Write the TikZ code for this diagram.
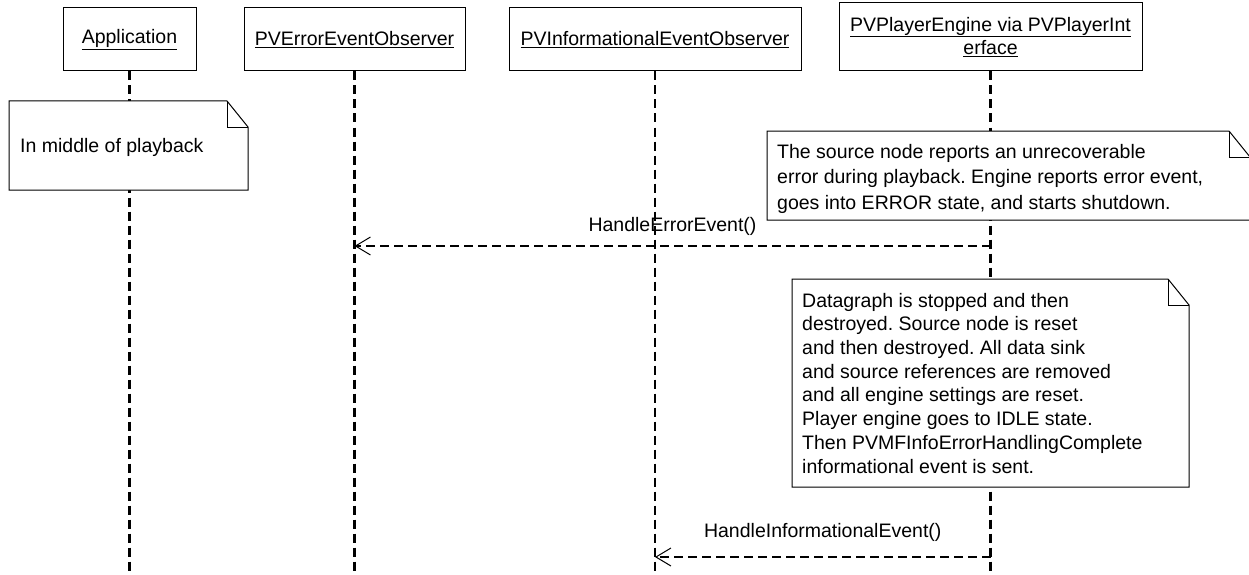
\documentclass[tikz,border=0pt]{standalone}
\usepackage{fontspec}
\setmainfont{Liberation Sans}
\usetikzlibrary{calc}
\usetikzlibrary{arrows.meta}
\frenchspacing

% note with a folded corner: x1, y1, x2, y2
\newcommand{\drawnote}[4]{%
  \draw[notebox] (#1, #2) -- (#3-21, #2) -- (#3, #2+26) -- (#3, #4) -- (#1, #4) -- cycle;
  \draw[line width=1pt] (#3-21, #2) -- (#3-21, #2+26) -- (#3, #2+26);}

\begin{document}
\begin{tikzpicture}[x=1pt, y=-1pt,
    every node/.style={font=\fontsize{19.5}{23.7}\selectfont, inner sep=0pt},
    head/.style={draw, line width=1pt, minimum height=63pt, fill=white},
    life/.style={line width=2.3pt, dash pattern=on 9pt off 5pt},
    msg/.style={line width=2.2pt, dash pattern=on 9pt off 5pt,
      -{Straight Barb[length=15pt, width=18pt, line width=1pt]}},
    notebox/.style={line width=1pt, fill=white, draw}]
    \useasboundingbox (0, 0) rectangle (1249, 575);

    \node[head, minimum width=133pt] (app) at (129.5, 39.5) {\underline{Application}};
    \node[head, minimum width=221pt] (errobs) at (354.5, 39.5) {\underline{PVErrorEventObserver}};
    \node[head, minimum width=292pt] (infoobs) at (655, 39.5) {\underline{PVInformationalEventObserver}};
    \node[head, minimum width=303pt, minimum height=68pt, align=center] (engine) at (990.5, 37)
      {\underline{PVPlayerEngine via PVPlayerInt}\\\underline{erface}};

    \coordinate (bottom) at (0, 575);
    \foreach \obj in {app, errobs, infoobs, engine}
      \draw[life] (\obj.south) -- (\obj.south |- bottom);

    % notes
    \drawnote{9}{101}{248}{190}
    \node[anchor=north west] (playnote) at (20, 137.8) {In middle of playback};

    \drawnote{767}{131}{1250}{220}
    \node[anchor=north west, align=left, font=\fontsize{19.5}{25.5}\selectfont] (errnote) at (777, 143.8)
      {The source node reports an unrecoverable\\
       error during playback. Engine reports error event,\\
       goes into ERROR state, and starts shutdown.};

    \drawnote{792}{279}{1189}{487}
    \node[anchor=north west, align=left] (resetnote) at (802, 292.8)
      {Datagraph is stopped and then\\
       destroyed. Source node is reset\\
       and then destroyed. All data sink\\
       and source references are removed\\
       and all engine settings are reset.\\
       Player engine goes to IDLE state.\\
       Then PVMFInfoErrorHandlingComplete\\
       informational event is sent.};

    % messages
    \coordinate (m1) at (0, 246);
    \coordinate (m2) at (0, 557);
    \draw[msg] (engine |- m1) -- (errobs |- m1)
      node[midway, yshift=20pt] {HandleErrorEvent()};
    \draw[msg] (engine |- m2) -- (infoobs |- m2)
      node[midway, yshift=25pt] {HandleInformationalEvent()};
\end{tikzpicture}
\end{document}
